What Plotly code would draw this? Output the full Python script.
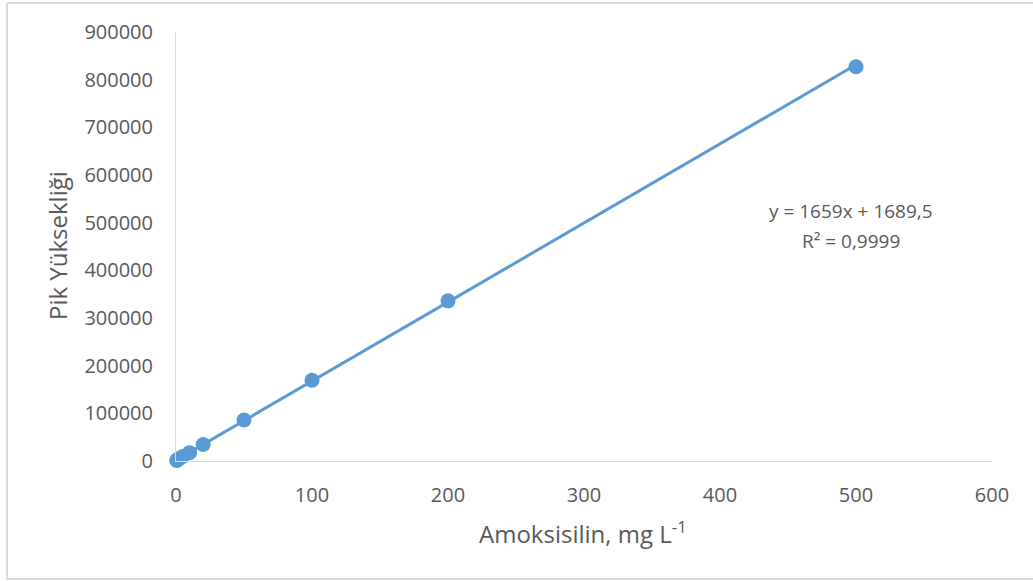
import numpy as np
import plotly.graph_objects as go

# Calibration data: amoxicillin concentration (mg/L) vs. peak height
concentration = [0.5, 1, 2, 5, 10, 20, 50, 100, 200, 500]
peak_height = [1200, 2500, 4500, 9500, 17500, 34500, 86000, 169500, 336000, 827000]

# Linear fit reported for the calibration
slope = 1659
intercept = 1689.5
r_squared = "0,9999"

x_ticks = [0, 100, 200, 300, 400, 500, 600]
y_ticks = [0, 100000, 200000, 300000, 400000, 500000, 600000, 700000, 800000, 900000]

blue = "#5B9BD5"
grey_text = "#595959"
grey_line = "#D9D9D9"
font_family = "Open Sans"

fit_x = np.array([min(concentration), max(concentration)])
fit_y = slope * fit_x + intercept

fig = go.Figure()
fig.add_trace(go.Scatter(
    x=fit_x, y=fit_y, mode="lines",
    line=dict(color=blue, width=3),
    hoverinfo="skip", showlegend=False, cliponaxis=False,
))
fig.add_trace(go.Scatter(
    x=concentration, y=peak_height, mode="markers",
    marker=dict(color=blue, size=15),
    showlegend=False, cliponaxis=False,
))

W, H = 1033, 581
L, R, T, B = 176, 41, 32, 120
pw, ph = W - L - R, H - T - B


def px(xp):
    return (xp - L) / pw


def py(yp):
    return (H - B - yp) / ph


fig.update_layout(
    width=W, height=H,
    margin=dict(l=L, r=R, t=T, b=B, autoexpand=False),
    paper_bgcolor="white", plot_bgcolor="white",
    font=dict(family=font_family, color=grey_text, size=20),
    xaxis=dict(
        range=[0, 600], tickvals=x_ticks, ticktext=[str(v) for v in x_ticks],
        showgrid=False, zeroline=False, showline=True,
        linecolor=grey_line, linewidth=1, ticks="",
        ticklabelstandoff=16,
        tickfont=dict(size=20, color=grey_text, family=font_family),
    ),
    yaxis=dict(
        range=[0, 900000], tickvals=y_ticks, ticktext=[str(v) for v in y_ticks],
        showgrid=False, zeroline=False, showline=True,
        linecolor=grey_line, linewidth=1, ticks="",
        ticklabelstandoff=18,
        tickfont=dict(size=20, color=grey_text, family=font_family),
    ),
    shapes=[
        # outer chart frame (left, top, bottom edges)
        dict(type="line", xref="paper", yref="paper",
             x0=px(7), x1=px(7), y0=py(3), y1=py(579),
             line=dict(color=grey_line, width=2)),
        dict(type="line", xref="paper", yref="paper",
             x0=px(7), x1=px(1040), y0=py(3), y1=py(3),
             line=dict(color=grey_line, width=2)),
        dict(type="line", xref="paper", yref="paper",
             x0=px(7), x1=px(1040), y0=py(579), y1=py(579),
             line=dict(color=grey_line, width=2)),
    ],
    annotations=[
        dict(text="Pik Yüksekliği", xref="paper", yref="paper",
             x=px(58), y=py(245), textangle=-90, showarrow=False,
             xanchor="center", yanchor="middle",
             font=dict(size=24, color=grey_text, family=font_family)),
        dict(text="Amoksisilin, mg L<sup>-1</sup>", xref="paper", yref="paper",
             x=px(583), y=py(532), showarrow=False,
             xanchor="center", yanchor="middle",
             font=dict(size=24, color=grey_text, family=font_family)),
        dict(text=f"y = {slope}x + {str(intercept).replace('.', ',')}",
             xref="paper", yref="paper",
             x=px(851), y=py(211), showarrow=False,
             xanchor="center", yanchor="middle",
             font=dict(size=19, color=grey_text, family=font_family)),
        dict(text=f"R² = {r_squared}", xref="paper", yref="paper",
             x=px(851), y=py(241), showarrow=False,
             xanchor="center", yanchor="middle",
             font=dict(size=19, color=grey_text, family=font_family)),
    ],
)

fig.write_html("out.html")
